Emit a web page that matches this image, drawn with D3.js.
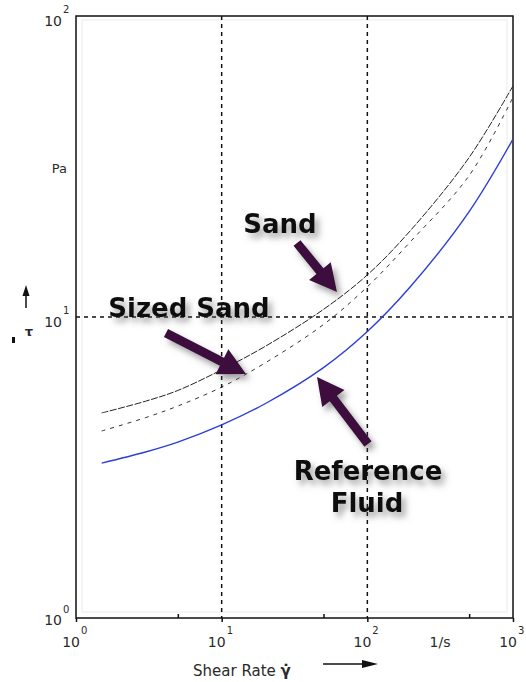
<!DOCTYPE html>
<html>
<head>
<meta charset="utf-8">
<script src="https://cdn.jsdelivr.net/npm/d3@7"></script>
<style>
  body { margin: 0; background: #fff; }
  text { font-family: "DejaVu Sans", sans-serif; fill: #2a2a2a; }
  .note { font-weight: bold; font-size: 26px; fill: #111; }
  .grid { stroke: #111; stroke-width: 1.5; stroke-dasharray: 4,4; }
  .axis path, .axis line { stroke: #111; stroke-width: 1.5; }
</style>
</head>
<body>
<svg id="chart"></svg>
<script>
// data
const shearRate = [1.5, 3, 5, 10, 20, 50, 100, 200, 500, 1000];
const sand      = [4.80, 5.25, 5.70, 6.68, 8.00, 10.6, 13.8, 19.5, 33.9, 58.6];
const sizedSand = [4.18, 4.63, 5.06, 5.85, 7.05, 9.44, 12.6, 17.9, 29.5, 53.7];
const refFluid  = [3.27, 3.56, 3.84, 4.38, 5.16, 6.79, 8.95, 12.7, 22.4, 39.0];

const xDecades = [1, 10, 100, 1000];
const xMinor = [5, 50, 500];
const yDecades = [1, 10, 100];

const svg = d3.select("#chart")
    .attr("width", 526)
    .attr("height", 682);

const x = d3.scaleLog().domain([1, 1000]).range([76, 513]);
const y = d3.scaleLog().domain([1, 100]).range([618, 16]);

const defs = svg.append("defs");
defs.append("filter")
    .attr("id", "shadow")
    .attr("x", "-30%").attr("y", "-30%")
    .attr("width", "160%").attr("height", "170%")
  .append("feDropShadow")
    .attr("dx", 4).attr("dy", 5)
    .attr("stdDeviation", 3)
    .attr("flood-color", "#555")
    .attr("flood-opacity", 0.55);

// faint inner frame
svg.append("rect")
    .attr("x", x.range()[0] + 6).attr("y", y.range()[1] + 4)
    .attr("width", x.range()[1] - x.range()[0] - 12)
    .attr("height", y.range()[0] - y.range()[1] - 10)
    .attr("fill", "none").attr("stroke", "#f5f5f5").attr("stroke-width", 2);

// grid lines
svg.selectAll(".vgrid")
    .data([10, 100])
    .enter().append("line")
    .attr("class", "grid")
    .attr("x1", d => x(d)).attr("x2", d => x(d))
    .attr("y1", y(100)).attr("y2", y(1));

svg.append("line")
    .attr("class", "grid")
    .attr("x1", x(1)).attr("x2", x(1000))
    .attr("y1", y(10)).attr("y2", y(10));

// frame
svg.append("rect")
    .attr("x", x(1)).attr("y", y(100))
    .attr("width", x(1000) - x(1))
    .attr("height", y(1) - y(100))
    .attr("fill", "none").attr("stroke", "#111").attr("stroke-width", 1.5);

// bottom ticks
svg.append("g")
    .attr("class", "axis")
    .attr("transform", `translate(0,${y(1)})`)
    .call(d3.axisBottom(x).tickValues(xMinor).tickSize(-4).tickFormat(""))
    .call(g => g.select(".domain").remove());

svg.append("g")
    .attr("class", "axis")
    .attr("transform", `translate(0,${y(1)})`)
    .call(d3.axisBottom(x).tickValues(xDecades).tickSize(4).tickFormat(""))
    .call(g => g.select(".domain").remove());

// x tick labels 10^n
const xl = svg.selectAll(".xlab").data(xDecades).enter();
xl.append("text")
    .attr("x", d => x(d) + 4).attr("y", 647)
    .attr("text-anchor", "end")
    .attr("font-size", 14)
    .text("10");
xl.append("text")
    .attr("x", d => x(d) + 5).attr("y", 634)
    .attr("font-size", 10)
    .text(d => Math.round(Math.log10(d)));

// y tick labels 10^n
const yl = svg.selectAll(".ylab").data(yDecades).enter();
yl.append("text")
    .attr("x", 62).attr("y", d => y(d) + (d === 1 ? 7 : 10))
    .attr("text-anchor", "end")
    .attr("font-size", 14)
    .text("10");
yl.append("text")
    .attr("x", 63).attr("y", d => y(d) + (d === 1 ? -5 : -3))
    .attr("font-size", 10)
    .text(d => Math.round(Math.log10(d)));

// axis titles
svg.append("text").attr("x", 67).attr("y", 173)
    .attr("text-anchor", "end").attr("font-size", 13).text("Pa");
svg.append("text").attr("x", 440).attr("y", 647)
    .attr("text-anchor", "middle").attr("font-size", 14).text("1/s");

const xt = svg.append("text").attr("x", 193).attr("y", 676).attr("font-size", 15);
xt.append("tspan").text("Shear Rate ");
xt.append("tspan").attr("font-weight", "bold").text("γ̇");

svg.append("line").attr("x1", 323).attr("x2", 366).attr("y1", 664).attr("y2", 664)
    .attr("stroke", "#111").attr("stroke-width", 1.5);
svg.append("path").attr("d", "M362,660 L378,664 L362,668 Z").attr("fill", "#111");

svg.append("text").attr("x", 29).attr("y", 336)
    .attr("text-anchor", "middle").attr("font-size", 13).attr("font-weight", "bold").text("τ");
svg.append("rect").attr("x", 12).attr("y", 337).attr("width", 3).attr("height", 6).attr("fill", "#111");
svg.append("line").attr("x1", 26).attr("x2", 26).attr("y1", 308).attr("y2", 293)
    .attr("stroke", "#111").attr("stroke-width", 1.5);
svg.append("path").attr("d", "M22.5,296 L26,285 L29.5,296 Z").attr("fill", "#111");

// curves
const line = d3.line()
    .x(d => x(d[0]))
    .y(d => y(d[1]))
    .curve(d3.curveCatmullRom.alpha(0.5));

const series = [
    { name: "Sand", values: sand, color: "#222", dash: "7,1.5", width: 1 },
    { name: "Sized Sand", values: sizedSand, color: "#333", dash: "4,5", width: 1 },
    { name: "Reference Fluid", values: refFluid, color: "#2b3fd6", dash: null, width: 1.4 }
];

svg.selectAll(".curve")
    .data(series)
    .enter().append("path")
    .attr("class", "curve")
    .attr("fill", "none")
    .attr("stroke", d => d.color)
    .attr("stroke-width", d => d.width)
    .attr("stroke-dasharray", d => d.dash)
    .attr("d", d => line(shearRate.map((s, i) => [s, d.values[i]])));

// annotation arrows
function arrowPath(x1, y1, x2, y2, sw, hl, hw) {
    const dx = x2 - x1, dy = y2 - y1;
    const len = Math.hypot(dx, dy);
    const ux = dx / len, uy = dy / len;
    const px = -uy, py = ux;
    const bx = x2 - ux * hl, by = y2 - uy * hl;
    const pts = [
        [x1 + px * sw / 2, y1 + py * sw / 2],
        [bx + px * sw / 2, by + py * sw / 2],
        [bx + px * hw / 2, by + py * hw / 2],
        [x2, y2],
        [bx - px * hw / 2, by - py * hw / 2],
        [bx - px * sw / 2, by - py * sw / 2],
        [x1 - px * sw / 2, y1 - py * sw / 2]
    ];
    return "M" + pts.map(p => p.join(",")).join("L") + "Z";
}

const arrows = [
    [297, 243, 337, 292],
    [166, 333, 246, 374],
    [368, 444, 317, 377]
];

svg.selectAll(".arrow")
    .data(arrows)
    .enter().append("path")
    .attr("class", "arrow")
    .attr("fill", "#3c0c3e")
    .attr("filter", "url(#shadow)")
    .attr("d", d => arrowPath(d[0], d[1], d[2], d[3], 9, 27, 28));

const notes = [
    { text: "Sand", x: 280, y: 233 },
    { text: "Sized Sand", x: 189, y: 317 },
    { text: "Reference", x: 368, y: 480 },
    { text: "Fluid", x: 367, y: 512 }
];

svg.selectAll(".note")
    .data(notes)
    .enter().append("text")
    .attr("class", "note")
    .attr("x", d => d.x).attr("y", d => d.y)
    .attr("text-anchor", "middle")
    .attr("filter", "url(#shadow)")
    .text(d => d.text);
</script>
</body>
</html>
